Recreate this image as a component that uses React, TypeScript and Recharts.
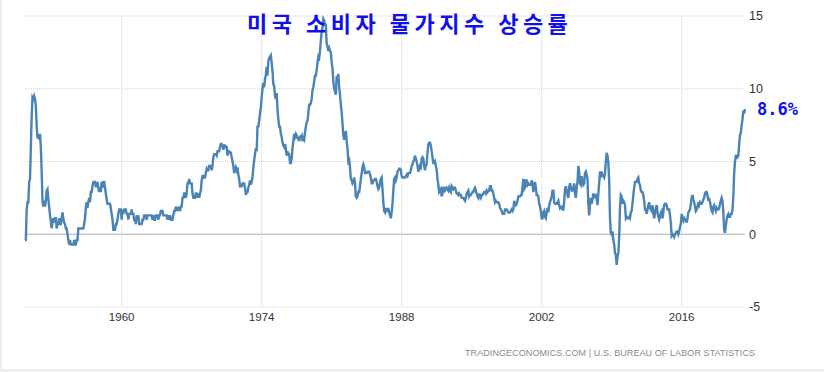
import { LineChart, Line, XAxis, YAxis, CartesianGrid, ReferenceLine } from "recharts";

// US CPI, year-over-year %, monthly. First series starts May 1950.
const startYear = 1950;
const startMonth = 4; // 0-based, May

const cpi1950s = [
  -0.4, -0.4, 1.7, 2.2, 2.2, 3.6, 3.8, 5.9,
  8.1, 9.4, 9.3, 9.5, 9.3, 8.8, 7.5, 6.6, 6.9, 6.5, 6.9, 6.0,
  4.3, 2.3, 1.9, 2.3, 1.9, 2.3, 3.0, 3.1, 2.4, 1.9, 1.3, 0.9,
  0.4, 0.8, 1.1, 0.8, 1.1, 1.1, 0.4, 0.7, 0.7, 1.1, 0.7, 0.7,
  1.1, 1.5, 1.1, 0.8, 0.7, 0.4, 0.4, 0.0, -0.4, -0.7, -0.4, -0.7,
  -0.7, -0.7, -0.7, -0.4, -0.7, -0.7, -0.4, -0.4, 0.4, 0.4, 0.4, 0.4,
  0.4, 0.4, 0.4, 0.7, 1.1, 1.8, 2.2, 1.8, 2.2, 2.5, 2.2, 2.9,
  2.9, 3.3, 3.6, 3.6, 3.6, 3.3, 3.3, 3.6, 3.2, 2.9, 3.2, 2.9,
  3.6, 3.2, 3.6, 3.6, 3.2, 2.8, 2.4, 2.1, 2.1, 2.1, 2.1, 1.8,
  1.4, 1.0, 0.3, 0.3, 0.3, 0.7, 0.7, 1.0, 1.4, 1.7, 1.7, 1.7,
];
const cpi1960s = [
  1.0, 1.7, 1.4, 1.7, 1.7, 1.7, 1.4, 1.4, 1.0, 1.4, 1.4, 1.4,
  1.7, 1.4, 1.4, 1.0, 1.0, 0.7, 1.3, 1.0, 1.3, 0.7, 0.7, 0.7,
  0.7, 1.0, 1.0, 1.3, 1.3, 1.3, 1.0, 1.3, 1.3, 1.3, 1.3, 1.3,
  1.3, 1.0, 1.3, 1.0, 1.0, 1.3, 1.3, 1.3, 1.0, 1.3, 1.3, 1.6,
  1.6, 1.6, 1.3, 1.3, 1.3, 1.3, 1.3, 1.0, 1.3, 1.0, 1.3, 1.0,
  1.0, 1.0, 1.3, 1.6, 1.6, 1.9, 1.6, 1.9, 1.6, 1.9, 1.6, 1.9,
  1.9, 2.5, 2.5, 2.8, 2.8, 2.5, 2.8, 3.5, 3.5, 3.8, 3.5, 3.5,
  3.5, 2.8, 2.5, 2.5, 2.5, 2.8, 2.8, 2.5, 2.8, 2.5, 2.8, 3.0,
  3.7, 4.0, 4.0, 3.9, 3.9, 4.2, 4.5, 4.4, 4.4, 4.7, 4.7, 4.7,
  4.4, 4.7, 5.3, 5.5, 5.5, 5.5, 5.4, 5.7, 5.7, 5.7, 6.0, 6.2,
];
const cpi1970s = [
  6.2, 6.1, 5.8, 6.1, 6.1, 6.0, 6.0, 5.4, 5.7, 5.7, 5.6, 5.6,
  5.3, 5.0, 4.7, 4.2, 4.4, 4.6, 4.4, 4.6, 4.1, 3.8, 3.3, 3.3,
  3.3, 3.5, 3.5, 3.5, 3.2, 2.7, 2.9, 2.9, 3.2, 3.4, 3.7, 3.4,
  3.6, 3.9, 4.6, 5.1, 5.5, 5.9, 5.7, 7.4, 7.4, 7.8, 8.3, 8.7,
  9.4, 10.0, 10.4, 10.1, 10.7, 10.9, 11.5, 10.9, 11.9, 12.1, 12.2, 12.3,
  11.8, 11.2, 10.3, 10.2, 9.5, 9.3, 9.7, 8.6, 7.9, 7.4, 7.4, 6.9,
  6.7, 6.3, 6.1, 6.0, 6.2, 5.9, 5.4, 5.7, 5.5, 5.5, 4.9, 4.9,
  5.2, 5.9, 6.4, 6.9, 6.7, 6.9, 6.8, 6.6, 6.6, 6.4, 6.7, 6.7,
  6.8, 6.4, 6.6, 6.5, 7.0, 7.4, 7.7, 7.8, 8.3, 8.9, 8.9, 9.0,
  9.3, 9.9, 10.1, 10.5, 10.9, 10.9, 11.3, 11.8, 12.2, 12.1, 12.6, 13.3,
];
const cpi1980s = [
  13.9, 14.2, 14.8, 14.7, 14.4, 14.4, 13.1, 12.9, 12.6, 12.8, 12.6, 12.5,
  11.8, 11.4, 10.5, 10.0, 9.8, 9.6, 10.8, 10.8, 11.0, 10.1, 9.6, 8.9,
  8.4, 7.6, 6.8, 6.5, 6.7, 7.1, 6.4, 5.9, 5.0, 5.1, 4.6, 3.8,
  3.7, 3.5, 3.6, 3.9, 3.5, 2.6, 2.5, 2.6, 2.9, 2.9, 3.3, 3.8,
  4.2, 4.6, 4.8, 4.6, 4.2, 4.2, 4.2, 4.3, 4.3, 4.3, 4.1, 3.9,
  3.5, 3.5, 3.7, 3.7, 3.8, 3.8, 3.6, 3.3, 3.1, 3.2, 3.5, 3.8,
  3.9, 3.1, 2.2, 1.6, 1.5, 1.8, 1.6, 1.6, 1.8, 1.5, 1.3, 1.1,
  1.5, 2.1, 3.0, 3.8, 3.9, 3.7, 3.9, 4.3, 4.4, 4.5, 4.5, 4.4,
  4.0, 3.9, 3.9, 3.9, 3.9, 4.0, 4.1, 4.0, 4.2, 4.2, 4.2, 4.4,
  4.7, 4.8, 5.0, 5.1, 5.4, 5.2, 5.0, 4.7, 4.3, 4.5, 4.7, 4.6,
];
const cpi1990s = [
  5.2, 5.3, 5.2, 4.7, 4.4, 4.7, 4.8, 5.6, 6.2, 6.3, 6.3, 6.1,
  5.7, 5.3, 4.9, 4.9, 5.0, 4.7, 4.4, 3.8, 3.4, 2.9, 3.0, 3.1,
  2.6, 2.8, 3.2, 3.2, 3.0, 3.1, 3.2, 3.1, 3.0, 3.2, 3.0, 2.9,
  3.3, 3.2, 3.1, 3.2, 3.2, 3.0, 2.8, 2.8, 2.7, 2.8, 2.7, 2.7,
  2.5, 2.5, 2.5, 2.4, 2.3, 2.5, 2.8, 2.9, 3.0, 2.6, 2.7, 2.7,
  2.8, 2.9, 2.9, 3.1, 3.2, 3.0, 2.8, 2.6, 2.5, 2.8, 2.6, 2.5,
  2.7, 2.7, 2.8, 2.9, 2.9, 2.8, 3.0, 2.9, 3.0, 3.0, 3.3, 3.3,
  3.0, 3.0, 2.8, 2.5, 2.2, 2.3, 2.2, 2.2, 2.2, 2.1, 1.8, 1.7,
  1.6, 1.4, 1.4, 1.4, 1.7, 1.7, 1.7, 1.6, 1.5, 1.5, 1.5, 1.6,
  1.7, 1.6, 1.7, 2.3, 2.1, 2.0, 2.1, 2.3, 2.6, 2.6, 2.6, 2.7,
];
const cpi2000s = [
  2.7, 3.2, 3.8, 3.1, 3.2, 3.7, 3.7, 3.4, 3.5, 3.4, 3.4, 3.4,
  3.7, 3.5, 2.9, 3.3, 3.6, 3.2, 2.7, 2.7, 2.6, 2.1, 1.9, 1.6,
  1.1, 1.1, 1.5, 1.6, 1.2, 1.1, 1.5, 1.8, 1.5, 2.0, 2.2, 2.4,
  2.6, 3.0, 3.0, 2.2, 2.1, 2.1, 2.1, 2.2, 2.3, 2.0, 1.8, 1.9,
  1.9, 1.7, 1.7, 2.3, 3.1, 3.3, 3.0, 2.7, 2.5, 3.2, 3.5, 3.3,
  3.0, 3.0, 3.1, 3.5, 2.8, 2.5, 3.2, 3.6, 4.7, 4.3, 3.5, 3.4,
  4.0, 3.6, 3.4, 3.5, 4.2, 4.3, 4.1, 3.8, 2.1, 1.3, 2.0, 2.5,
  2.1, 2.4, 2.8, 2.6, 2.7, 2.7, 2.4, 2.0, 2.8, 3.5, 4.3, 4.1,
  4.3, 4.0, 4.0, 3.9, 4.2, 5.0, 5.6, 5.4, 4.9, 3.7, 1.1, 0.1,
  0.0, 0.2, -0.4, -0.7, -1.3, -1.4, -2.1, -1.5, -1.3, -0.2, 1.8, 2.7,
];
const cpi2010s = [
  2.6, 2.1, 2.3, 2.2, 2.0, 1.1, 1.2, 1.1, 1.1, 1.2, 1.1, 1.5,
  1.6, 2.1, 2.7, 3.2, 3.6, 3.6, 3.6, 3.8, 3.9, 3.5, 3.4, 3.0,
  2.9, 2.9, 2.7, 2.3, 1.7, 1.7, 1.4, 1.7, 2.0, 2.2, 1.8, 1.7,
  1.6, 2.0, 1.5, 1.1, 1.4, 1.8, 2.0, 1.5, 1.2, 1.0, 1.2, 1.5,
  1.6, 1.1, 1.5, 2.0, 2.1, 2.1, 2.0, 1.7, 1.7, 1.7, 1.3, 0.8,
  -0.1, 0.0, -0.1, -0.2, 0.0, 0.1, 0.2, 0.2, 0.0, 0.2, 0.5, 0.7,
  1.4, 1.0, 0.9, 1.1, 1.0, 1.0, 0.8, 1.1, 1.5, 1.6, 1.7, 2.1,
  2.5, 2.7, 2.4, 2.2, 1.9, 1.6, 1.7, 1.9, 2.2, 2.0, 2.2, 2.1,
  2.1, 2.2, 2.4, 2.5, 2.8, 2.9, 2.9, 2.7, 2.3, 2.5, 2.2, 1.9,
  1.6, 1.5, 1.9, 2.0, 1.8, 1.6, 1.8, 1.7, 1.7, 1.8, 2.1, 2.3,
];
const cpi2020s = [
  2.5, 2.3, 1.5, 0.3, 0.1, 0.6, 1.0, 1.3, 1.4, 1.2, 1.2, 1.4,
  1.4, 1.7, 2.6, 4.2, 5.0, 5.4, 5.4, 5.3, 5.4, 6.2, 6.8, 7.0,
  7.5, 7.9, 8.5, 8.3, 8.6,
];

const xTicks = [1960, 1974, 1988, 2002, 2016];
const yTicks = [-5, 0, 5, 10, 15];

const allValues = [
  ...cpi1950s,
  ...cpi1960s,
  ...cpi1970s,
  ...cpi1980s,
  ...cpi1990s,
  ...cpi2000s,
  ...cpi2010s,
  ...cpi2020s,
];

const data = allValues.map((v, i) => ({
  t: startYear + (startMonth + i) / 12,
  value: v,
}));

const first = data[0].t;
const last = data[data.length - 1].t;

const W = 824;
const H = 372;
const gridColor = "#d4d4d4";

export default function App() {
  return (
    <div
      style={{
        position: "fixed",
        left: 0,
        top: 0,
        width: W,
        height: H,
        background: "#fff",
        overflow: "hidden",
      }}
    >
      <LineChart
        width={W}
        height={H}
        data={data}
        margin={{ top: 16, right: 0, bottom: 0, left: 25 }}
      >
        <CartesianGrid stroke={gridColor} strokeDasharray="1 1" vertical={false} />
        {xTicks.map((t) => (
          <ReferenceLine key={t} x={t} stroke={gridColor} strokeDasharray="1 1" />
        ))}
        <XAxis
          dataKey="t"
          type="number"
          domain={[first, last]}
          ticks={xTicks}
          axisLine={false}
          tickLine={false}
          tickSize={0}
          tickMargin={6}
          height={65}
          tick={{ fill: "#333", fontSize: 11.5, fontFamily: "Liberation Sans, Arial, sans-serif" }}
        />
        <YAxis
          orientation="right"
          domain={[-5, 15]}
          ticks={yTicks}
          axisLine={false}
          tickLine={false}
          tickSize={0}
          tickMargin={4}
          width={79}
          tick={{ fill: "#333", fontSize: 12.5, fontFamily: "Liberation Sans, Arial, sans-serif", textAnchor: "start" }}
        />
        <ReferenceLine y={0} stroke="#b5b5b5" strokeWidth={1} />
        <Line
          type="linear"
          dataKey="value"
          stroke="#4a84b6"
          strokeWidth={2.4}
          dot={false}
          isAnimationActive={false}
        />
      </LineChart>
      <div
        style={{
          position: "absolute",
          left: 247,
          top: 6,
          color: "#1010ee",
          fontFamily: "Noto Sans CJK KR, sans-serif",
          fontWeight: 700,
          fontSize: 22,
          letterSpacing: 4.5,
          whiteSpace: "nowrap",
        }}
      >
        미국 소비자 물가지수 상승률
      </div>
      <div
        style={{
          position: "absolute",
          left: 757,
          top: 99,
          color: "#1010ee",
          fontFamily: "DejaVu Sans Mono, monospace",
          fontWeight: 700,
          fontSize: 17,
          whiteSpace: "nowrap",
        }}
      >
        8.6%
      </div>
      <svg
        width={W}
        height={H}
        style={{ position: "absolute", left: 0, top: 0, pointerEvents: "none" }}
      >
        <text
          x={465}
          y={356}
          fontSize={9}
          fill="#8a8a8a"
          fontFamily="Liberation Sans, Arial, sans-serif"
          textLength={290}
          lengthAdjust="spacing"
        >
          TRADINGECONOMICS.COM | U.S. BUREAU OF LABOR STATISTICS
        </text>
        <line x1={1} y1={0} x2={1} y2={H} stroke="#eeeeee" strokeWidth={2} />
        <line x1={0} y1={370.5} x2={W} y2={370.5} stroke="#eeeeee" strokeWidth={3} />
      </svg>
    </div>
  );
}
